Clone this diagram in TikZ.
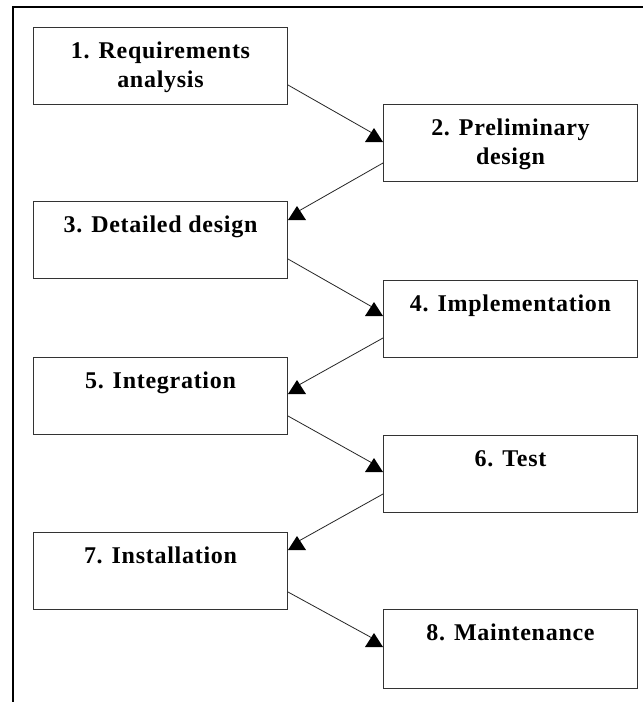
\documentclass[tikz,border=0pt]{standalone}
\usepackage{fontspec}
\setmainfont{Liberation Serif}[LetterSpace=3]
\usetikzlibrary{calc}
\newcommand\linkR[4]{%
  \draw[conn] ($(#1.north east)+(0,#2)$) -- ($(#3.north west)+(-9,#4-8)$);
  \fill[head] ($(#3.north west)+(-18,#4)$) -- ($(#3.north west)+(0,#4)$) -- ($(#3.north west)+(-9,#4-14)$) -- cycle;}
\newcommand\linkL[4]{%
  \draw[conn] ($(#1.north west)+(0,#2)$) -- ($(#3.north east)+(9,#4-8)$);
  \fill[head] ($(#3.north east)+(0,#4)$) -- ($(#3.north east)+(18,#4)$) -- ($(#3.north east)+(9,#4-14)$) -- cycle;}
\begin{document}
\begin{tikzpicture}[x=1pt,y=-1pt,
  box/.style={draw=black!80, line width=1pt, minimum width=254pt, minimum height=77pt, anchor=north west, inner sep=0pt},
  lbl/.style={anchor=base, font=\fontsize{24}{29}\selectfont\bfseries, align=center, inner sep=0pt},
  conn/.style={draw=black!85, line width=0.8pt},
  head/.style={fill=black}]
\useasboundingbox (0,0) rectangle (643,702);
\fill[white] (0,0) rectangle (643,702);
\draw[line width=2pt] (643,7) -- (13,7) -- (13,702);

\node[box] (b1) at (33,27) {};
\node[box] (b2) at (383,104) {};
\node[box] (b3) at (33,201) {};
\node[box] (b4) at (383,280) {};
\node[box] (b5) at (33,357) {};
\node[box] (b6) at (383,435) {};
\node[box] (b7) at (33,532) {};
\node[box, minimum height=79pt] (b8) at (383,609) {};

\node[lbl] (t1) at ($(b1.north)+(0,60)$) {1. Requirements\\analysis};
\node[lbl] (t2) at ($(b2.north)+(0,60)$) {2. Preliminary\\design};
\node[lbl] (t3) at ($(b3.north)+(0,31)$) {3. Detailed design};
\node[lbl] (t4) at ($(b4.north)+(0,31)$) {4. Implementation};
\node[lbl] (t5) at ($(b5.north)+(0,31)$) {5. Integration};
\node[lbl] (t6) at ($(b6.north)+(0,31)$) {6. Test};
\node[lbl] (t7) at ($(b7.north)+(0,31)$) {7. Installation};
\node[lbl] (t8) at ($(b8.north)+(0,31)$) {8. Maintenance};

\linkR{b1}{58}{b2}{38}
\linkL{b2}{59}{b3}{19}
\linkR{b3}{58}{b4}{36}
\linkL{b4}{58}{b5}{37}
\linkR{b5}{59}{b6}{37}
\linkL{b6}{59}{b7}{18}
\linkR{b7}{60}{b8}{38}
\end{tikzpicture}
\end{document}
